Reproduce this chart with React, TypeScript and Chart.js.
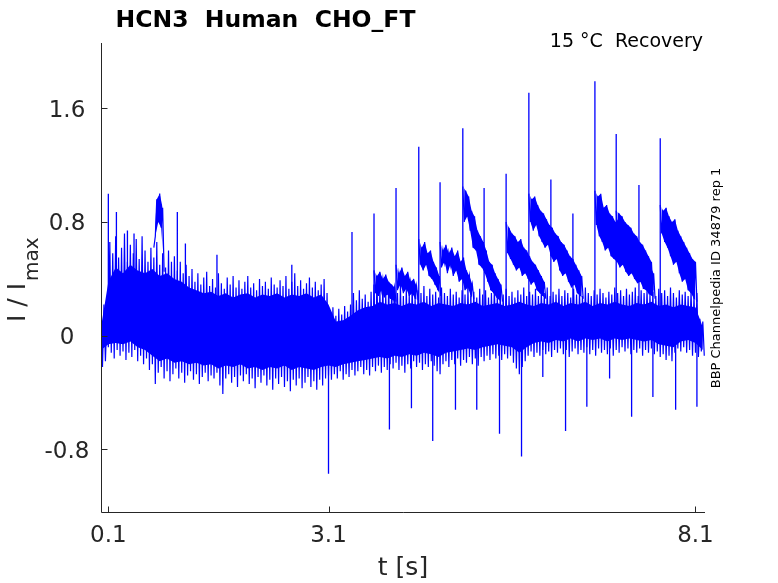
import React, { useEffect, useRef } from "react";
import { Chart, registerables } from "chart.js";

Chart.register(...registerables);

// ---- axis limits and ticks ----
const xMin = 0;
const xMax = 8.23;
const yMin = -1.24;
const yMax = 2.06;
const xTicks = [0.1, 3.1, 8.1];
const xTickLabels = ["0.1", "3.1", "8.1"];
const yTicks = [-0.8, 0, 0.8, 1.6];
const yTickLabels = ["-0.8", "0", "0.8", "1.6"];

const titleText = "HCN3  Human  CHO_FT";
const cornerText = "15 °C  Recovery";
const sideText = "BBP Channelpedia ID 34879 rep 1";
const xLabel = "t [s]";

// ---- dense core of the overlaid sweeps, sampled every 0.1 s ----
const coreStep = 0.1;
const coreTop = [
  0.06, 0.38, 0.48, 0.44, 0.5, 0.46, 0.44, 0.47, 0.42, 0.44, 0.4, 0.38, 0.34, 0.32, 0.3, 0.31, 0.28, 0.3, 0.27, 0.29,
  0.3, 0.27, 0.29, 0.28, 0.3, 0.27, 0.29, 0.28, 0.3, 0.27, 0.29, 0.22, 0.1, 0.11, 0.14, 0.18, 0.2, 0.21, 0.24, 0.22,
  0.23, 0.21, 0.23, 0.22, 0.24, 0.21, 0.23, 0.22, 0.21, 0.23, 0.22, 0.24, 0.21, 0.22, 0.23, 0.21, 0.22, 0.24, 0.22, 0.21,
  0.23, 0.22, 0.24, 0.21, 0.23, 0.22, 0.24, 0.21, 0.23, 0.22, 0.24, 0.22, 0.21, 0.23, 0.22, 0.24, 0.21, 0.22, 0.2, 0.22,
  0.21, 0.2, 0.06,
];
const coreBottom = [
  -0.1, -0.06, -0.05, -0.06, -0.04, -0.08, -0.1, -0.14, -0.18, -0.16, -0.19, -0.18, -0.2, -0.19, -0.21, -0.2, -0.23, -0.21, -0.22, -0.2,
  -0.23, -0.22, -0.24, -0.22, -0.23, -0.21, -0.24, -0.22, -0.23, -0.24, -0.22, -0.21, -0.22, -0.2, -0.19, -0.18, -0.17, -0.16, -0.15, -0.16,
  -0.14, -0.15, -0.13, -0.14, -0.12, -0.13, -0.15, -0.12, -0.11, -0.1, -0.09, -0.1, -0.08, -0.07, -0.06, -0.07, -0.08, -0.12, -0.08, -0.05,
  -0.04, -0.05, -0.03, -0.04, -0.02, -0.04, -0.02, -0.03, -0.02, -0.04, -0.02, -0.03, -0.02, -0.03, -0.04, -0.03, -0.06, -0.07, -0.08, -0.04,
  -0.03, -0.05, -0.1,
];

// ---- noise: upper excursions every 0.04 s, lower excursions in between ----
const noiseStep = 0.04;
const noiseTop = [
  0.16, 0.22, 0.12, 0.66, 0.58, 0.7, 0.55, 0.62, 0.72, 0.52, 0.64, 0.58, 0.68, 0.54, 0.7, 0.6, 0.52, 0.62, 0.55, 0.66,
  0.5, 0.58, 0.48, 0.6, 0.52, 0.56, 0.46, 0.52, 0.44, 0.5, 0.42, 0.47, 0.38, 0.44, 0.36, 0.41, 0.45, 0.35, 0.4, 0.34,
  0.44, 0.37, 0.33, 0.41, 0.36, 0.42, 0.34, 0.39, 0.33, 0.38, 0.42, 0.34, 0.37, 0.32, 0.4, 0.35, 0.38, 0.33, 0.41, 0.36,
  0.34, 0.39, 0.35, 0.42, 0.33, 0.38, 0.44, 0.35, 0.39, 0.33, 0.37, 0.41, 0.34, 0.38, 0.32, 0.36, 0.4, 0.3, 0.16, 0.2,
  0.14, 0.19, 0.15, 0.21, 0.17, 0.22, 0.3, 0.25, 0.32, 0.26, 0.29, 0.24, 0.31, 0.36, 0.42, 0.33, 0.38, 0.3, 0.36, 0.29,
  0.34, 0.3, 0.36, 0.28, 0.33, 0.29, 0.35, 0.27, 0.32, 0.3, 0.35, 0.28, 0.33, 0.29, 0.31, 0.27, 0.34, 0.3, 0.28, 0.33,
  0.29, 0.31, 0.27, 0.32, 0.29, 0.34, 0.28, 0.31, 0.27, 0.33, 0.29, 0.32, 0.27, 0.3, 0.34, 0.28, 0.31, 0.29, 0.33, 0.28,
  0.31, 0.27, 0.32, 0.29, 0.34, 0.28, 0.31, 0.29, 0.33, 0.28, 0.32, 0.3, 0.34, 0.28, 0.31, 0.29, 0.33, 0.28, 0.32, 0.3,
  0.27, 0.33, 0.29, 0.31, 0.28, 0.34, 0.3, 0.28, 0.32, 0.29, 0.33, 0.3, 0.27, 0.31, 0.29, 0.34, 0.3, 0.32, 0.28, 0.33,
  0.29, 0.31, 0.34, 0.28, 0.32, 0.3, 0.33, 0.29, 0.31, 0.28, 0.33, 0.3, 0.32, 0.28, 0.34, 0.3, 0.27, 0.32, 0.29, 0.31,
  0.28, 0.32, 0.29, 0.3, 0.12, 0.1,
];
const noiseBottom = [
  -0.22, -0.18, -0.08, -0.12, -0.16, -0.1, -0.14, -0.11, -0.17, -0.12, -0.15, -0.1, -0.18, -0.14, -0.2, -0.16, -0.24, -0.2, -0.34, -0.26,
  -0.22, -0.3, -0.25, -0.32, -0.27, -0.23, -0.3, -0.26, -0.33, -0.28, -0.25, -0.31, -0.27, -0.34, -0.29, -0.26, -0.32, -0.28, -0.3, -0.26,
  -0.35, -0.41, -0.3, -0.27, -0.33, -0.29, -0.36, -0.28, -0.32, -0.27, -0.34, -0.3, -0.37, -0.29, -0.33, -0.28, -0.35, -0.31, -0.38, -0.3,
  -0.34, -0.29, -0.36, -0.32, -0.39, -0.31, -0.35, -0.3, -0.37, -0.33, -0.29, -0.36, -0.32, -0.38, -0.31, -0.35, -0.3, -0.28, -0.31, -0.27,
  -0.3, -0.25, -0.31, -0.27, -0.29, -0.24, -0.28, -0.25, -0.22, -0.27, -0.24, -0.28, -0.22, -0.25, -0.21, -0.26, -0.22, -0.24, -0.2, -0.23,
  -0.19, -0.24, -0.21, -0.26, -0.2, -0.23, -0.18, -0.22, -0.19, -0.24, -0.2, -0.22, -0.18, -0.21, -0.25, -0.27, -0.2, -0.18, -0.22, -0.17,
  -0.2, -0.16, -0.21, -0.17, -0.19, -0.15, -0.2, -0.16, -0.21, -0.15, -0.18, -0.14, -0.17, -0.13, -0.16, -0.14, -0.17, -0.13, -0.16, -0.14,
  -0.19, -0.23, -0.27, -0.22, -0.18, -0.14, -0.11, -0.15, -0.12, -0.14, -0.1, -0.13, -0.11, -0.15, -0.1, -0.12, -0.09, -0.13, -0.1, -0.15,
  -0.11, -0.09, -0.13, -0.1, -0.12, -0.08, -0.13, -0.1, -0.14, -0.09, -0.12, -0.1, -0.13, -0.09, -0.14, -0.1, -0.12, -0.08, -0.11, -0.09,
  -0.13, -0.1, -0.12, -0.09, -0.14, -0.1, -0.12, -0.09, -0.13, -0.11, -0.15, -0.13, -0.17, -0.14, -0.18, -0.12, -0.09, -0.11, -0.08, -0.12,
  -0.1, -0.14, -0.12, -0.15, -0.11, -0.14,
];

// ---- decaying tails after the test pulses: start time, upper and lower excursions ----
const tailAStart = 0.72;
const tailATop = [0.62, 0.96, 1.0, 0.9];
const tailABot = [0.7, 0.8, 0.76, 0.45];
const tailBStart = 3.72;
const tailBTop = [0.46, 0.42, 0.45, 0.4, 0.43, 0.38, 0.36, 0.34];
const tailBBot = [0.3, 0.28, 0.32, 0.27, 0.29, 0.26, 0.25, 0.24];
const tailCStart = 4.02;
const tailCTop = [0.5, 0.44, 0.48, 0.42, 0.45, 0.38, 0.4, 0.35];
const tailCBot = [0.32, 0.36, 0.3, 0.33, 0.28, 0.3, 0.26, 0.25];
const tailDStart = 4.33;
const tailDTop = [0.68, 0.62, 0.66, 0.58, 0.6, 0.52, 0.48, 0.42];
const tailDBot = [0.5, 0.46, 0.5, 0.42, 0.4, 0.36, 0.32, 0.28];
const tailEStart = 4.62;
const tailETop = [0.66, 0.6, 0.64, 0.58, 0.62, 0.56, 0.6, 0.52, 0.55, 0.46, 0.42, 0.36];
const tailEBot = [0.48, 0.52, 0.44, 0.5, 0.42, 0.46, 0.38, 0.4, 0.32, 0.34, 0.28, 0.26];
const tailFStart = 4.93;
const tailFTop = [1.05, 1.02, 0.98, 0.88, 0.84, 0.74, 0.7, 0.66, 0.6, 0.52, 0.5, 0.44, 0.4, 0.36];
const tailFBot = [0.8, 0.84, 0.74, 0.62, 0.6, 0.5, 0.48, 0.44, 0.38, 0.32, 0.3, 0.27, 0.25, 0.24];
const tailGStart = 5.52;
const tailGTop = [0.8, 0.76, 0.72, 0.7, 0.66, 0.68, 0.62, 0.6, 0.56, 0.52, 0.5, 0.46, 0.42, 0.38];
const tailGBot = [0.58, 0.54, 0.5, 0.46, 0.48, 0.42, 0.44, 0.4, 0.36, 0.38, 0.32, 0.3, 0.28, 0.26];
const tailHStart = 5.83;
const tailHTop = [1.0, 0.96, 0.98, 0.92, 0.88, 0.86, 0.82, 0.78, 0.76, 0.72, 0.7, 0.66, 0.64, 0.6, 0.56, 0.54, 0.5, 0.46, 0.42];
const tailHBot = [0.8, 0.74, 0.78, 0.7, 0.66, 0.62, 0.64, 0.56, 0.52, 0.54, 0.46, 0.42, 0.44, 0.38, 0.34, 0.36, 0.3, 0.28, 0.26];
const tailIStart = 6.73;
const tailITop = [1.02, 0.98, 1.0, 0.9, 0.92, 0.86, 0.84, 0.8, 0.82, 0.76, 0.74, 0.72, 0.7, 0.66, 0.64, 0.62, 0.58, 0.56, 0.52, 0.48, 0.44];
const tailIBot = [0.78, 0.7, 0.66, 0.6, 0.62, 0.56, 0.54, 0.52, 0.48, 0.5, 0.45, 0.42, 0.44, 0.4, 0.37, 0.38, 0.33, 0.32, 0.29, 0.28, 0.26];
const tailJStart = 7.02;
const tailJTop = [0.88, 0.86, 0.84, 0.8, 0.78, 0.76, 0.72, 0.7, 0.66, 0.64, 0.6, 0.56, 0.52];
const tailJBot = [0.7, 0.64, 0.66, 0.6, 0.56, 0.58, 0.52, 0.48, 0.5, 0.44, 0.4, 0.36, 0.32];
const tailKStart = 7.62;
const tailKTop = [0.92, 0.88, 0.9, 0.84, 0.8, 0.82, 0.74, 0.7, 0.66, 0.62, 0.58, 0.54, 0.52];
const tailKBot = [0.72, 0.66, 0.62, 0.56, 0.5, 0.52, 0.44, 0.38, 0.4, 0.32, 0.3, 0.26, 0.24];

// ---- capacitive spikes ----
const spikeUpT = [0.1, 0.21, 0.36, 0.45, 1.04, 1.15, 1.58, 2.6, 3.42, 3.72, 4.02, 4.33, 4.62, 4.93, 5.22, 5.52, 5.83, 6.13, 6.43, 6.73, 7.02, 7.33, 7.62];
const spikeUpPeak = [1.0, 0.87, 0.74, 0.72, 0.87, 0.65, 0.57, 0.5, 0.73, 0.86, 1.04, 1.33, 1.08, 1.46, 1.04, 1.14, 1.71, 1.1, 0.86, 1.79, 1.42, 1.06, 1.39];
const spikeDownT = [3.1, 3.93, 4.23, 4.52, 4.83, 5.12, 5.43, 5.73, 6.02, 6.33, 6.62, 6.93, 7.23, 7.52, 7.83, 8.12];
const spikeDownPeak = [-0.97, -0.66, -0.51, -0.74, -0.52, -0.52, -0.69, -0.85, -0.29, -0.67, -0.5, -0.3, -0.57, -0.43, -0.52, -0.5];

const BLUE = "#0000ff";
const AXIS = "#262626";
const FONT = "'DejaVu Sans', sans-serif";

const series = (start: number, step: number, v: number[]) => v.map((y, k) => ({ x: start + k * step, y }));

// interleave upper values (at start + k*step) with lower values (at start + step/2 + k*step)
function zigzag(start: number, top: number[], bot: number[]) {
  const out: { x: number; y: number }[] = [];
  const n = Math.max(top.length, bot.length);
  for (let k = 0; k < n; k++) {
    if (k < top.length) out.push({ x: start + k * noiseStep, y: top[k] });
    if (k < bot.length) out.push({ x: start + noiseStep / 2 + k * noiseStep, y: bot[k] });
  }
  return out;
}

function buildDatasets() {
  const base = { pointRadius: 0, tension: 0, borderColor: BLUE, backgroundColor: BLUE, fill: false };
  const ds: any[] = [];
  ds.push({ ...base, data: series(0, coreStep, coreBottom), borderWidth: 0 });
  ds.push({ ...base, data: series(0, coreStep, coreTop), borderWidth: 0, fill: "-1" });
  ds.push({ ...base, data: zigzag(0, noiseTop, noiseBottom), borderWidth: 1.2 });
  const tails: [number, number[], number[]][] = [
    [tailAStart, tailATop, tailABot],
    [tailBStart, tailBTop, tailBBot],
    [tailCStart, tailCTop, tailCBot],
    [tailDStart, tailDTop, tailDBot],
    [tailEStart, tailETop, tailEBot],
    [tailFStart, tailFTop, tailFBot],
    [tailGStart, tailGTop, tailGBot],
    [tailHStart, tailHTop, tailHBot],
    [tailIStart, tailITop, tailIBot],
    [tailJStart, tailJTop, tailJBot],
    [tailKStart, tailKTop, tailKBot],
  ];
  tails.forEach(([s, top, bot]) => {
    ds.push({ ...base, data: series(s + noiseStep / 2, noiseStep, bot), borderWidth: 0 });
    ds.push({ ...base, data: series(s, noiseStep, top), borderWidth: 0, fill: "-1" });
    ds.push({ ...base, data: zigzag(s, top, bot), borderWidth: 1.2 });
  });
  const spikes: { x: number; y: number | null }[] = [];
  spikeUpT.forEach((t, i) => {
    spikes.push({ x: t, y: 0.1 }, { x: t, y: spikeUpPeak[i] }, { x: t, y: null });
  });
  spikeDownT.forEach((t, i) => {
    spikes.push({ x: t, y: 0 }, { x: t, y: spikeDownPeak[i] }, { x: t, y: null });
  });
  ds.push({ ...base, data: spikes, borderWidth: 1.3, spanGaps: false });
  return ds;
}

const axesPlugin = {
  id: "matlabAxes",
  afterDraw(chart: any) {
    const { ctx, chartArea: a, scales } = chart;
    const xs = scales.x;
    const ys = scales.y;
    ctx.save();
    ctx.strokeStyle = AXIS;
    ctx.fillStyle = AXIS;
    ctx.lineWidth = 1;
    const L = Math.round(a.left) + 0.5;
    const B = Math.round(a.bottom) + 0.5;
    ctx.beginPath();
    ctx.moveTo(L, Math.round(a.top));
    ctx.lineTo(L, B);
    ctx.lineTo(Math.round(a.right), B);
    ctx.stroke();
    ctx.beginPath();
    xTicks.forEach((v) => {
      const px = Math.round(xs.getPixelForValue(v)) + 0.5;
      ctx.moveTo(px, B);
      ctx.lineTo(px, B - 6);
    });
    yTicks.forEach((v) => {
      const py = Math.round(ys.getPixelForValue(v)) + 0.5;
      ctx.moveTo(L, py);
      ctx.lineTo(L + 6, py);
    });
    ctx.stroke();
    ctx.font = `23px ${FONT}`;
    ctx.textAlign = "center";
    ctx.textBaseline = "alphabetic";
    xTicks.forEach((v, i) => {
      ctx.fillText(xTickLabels[i], xs.getPixelForValue(v), 542);
    });
    yTicks.forEach((v, i) => {
      ctx.fillText(yTickLabels[i], 67, ys.getPixelForValue(v) + 8.4);
    });
    ctx.font = `25px ${FONT}`;
    ctx.fillText(xLabel, (a.left + a.right) / 2, 575);
    ctx.save();
    ctx.translate(25, 322);
    ctx.rotate(-Math.PI / 2);
    ctx.textAlign = "left";
    ctx.font = `25px ${FONT}`;
    const main = "I / I";
    ctx.fillText(main, 0, 0);
    const w = ctx.measureText(main).width;
    ctx.font = `20px ${FONT}`;
    ctx.fillText("max", w + 2, 13);
    ctx.restore();
    ctx.font = `bold 23.5px ${FONT}`;
    ctx.fillStyle = "#000000";
    ctx.textAlign = "center";
    ctx.fillText(titleText, 265.5, 27);
    ctx.font = `19px ${FONT}`;
    ctx.textAlign = "right";
    ctx.fillText(cornerText, 703, 47);
    ctx.save();
    ctx.translate(720, 278);
    ctx.rotate(-Math.PI / 2);
    ctx.textAlign = "center";
    ctx.font = `13px ${FONT}`;
    ctx.fillText(sideText, 0, 0);
    ctx.restore();
    ctx.restore();
  },
};

export default function App() {
  const ref = useRef<HTMLCanvasElement | null>(null);
  useEffect(() => {
    if (!ref.current) return;
    const chart = new Chart(ref.current, {
      type: "line",
      data: { datasets: buildDatasets() },
      options: {
        animation: false,
        responsive: false,
        parsing: false as any,
        layout: { padding: { left: 101, right: 73, top: 43, bottom: 71 } },
        scales: {
          x: { type: "linear", min: xMin, max: xMax, display: false },
          y: { type: "linear", min: yMin, max: yMax, display: false },
        },
        plugins: { legend: { display: false }, tooltip: { enabled: false }, title: { display: false } },
        elements: { point: { radius: 0 }, line: { tension: 0 } },
      },
      plugins: [axesPlugin],
    });
    return () => chart.destroy();
  }, []);
  return (
    <div style={{ position: "absolute", left: 0, top: 0, width: 778, height: 583, background: "#ffffff" }}>
      <canvas ref={ref} width={778} height={583} style={{ display: "block" }} />
    </div>
  );
}
